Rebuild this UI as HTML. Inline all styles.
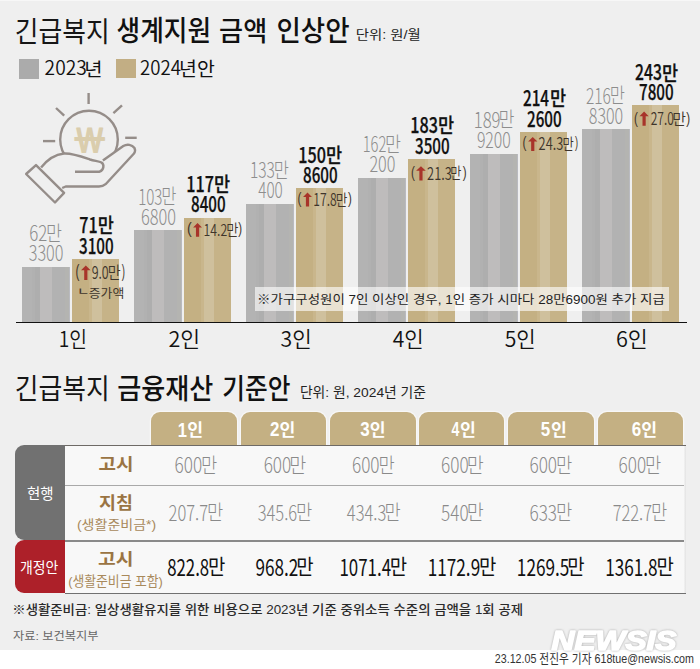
<!DOCTYPE html>
<html lang="ko"><head><meta charset="utf-8"><title>긴급복지 생계지원 금액 인상안</title>
<style>*{margin:0;padding:0;box-sizing:border-box}
html,body{width:700px;height:669px;overflow:hidden;background:#efefef}
body{position:relative}
.a{position:absolute}
text{white-space:pre}
.gbar{position:absolute;width:48px;background:linear-gradient(90deg,#b3b3b3 0,#b3b3b3 10px,#b1b1b1 10px,#b1b1b1 13px,#aeaeae 13px,#aeaeae 17.7px,#bebcbc 17.7px,#bebcbc 29.8px,#b2b2b2 29.8px,#b2b2b2 43.5px,#b4b4b1 43.5px,#b4b4b1 47.3px,#b9bac0 47.3px)}
.dbar{position:absolute;width:47.5px;background:linear-gradient(90deg,#c4b083 0,#c4b083 17.2px,#c9b68c 17.2px,#c9b68c 20px,#cfc09d 20px,#cfc09d 29.8px,#c6b388 29.8px)}
.tab{position:absolute;top:412px;height:33px;width:85.6px;background:#c4b083;border-radius:9px 9px 0 0;box-shadow:0 0 0 1.2px #f7f7f7}
</style></head>
<body>
<div class="gbar" style="left:22px;top:267px;height:55px"></div>
<div class="dbar" style="left:71.6px;top:258.9px;height:63.10000000000002px"></div>
<div class="gbar" style="left:134px;top:230.2px;height:91.80000000000001px"></div>
<div class="dbar" style="left:183.6px;top:217.6px;height:104.4px"></div>
<div class="gbar" style="left:246px;top:203.9px;height:118.1px"></div>
<div class="dbar" style="left:295.6px;top:188.2px;height:133.8px"></div>
<div class="gbar" style="left:358px;top:178.4px;height:143.6px"></div>
<div class="dbar" style="left:407.6px;top:158.7px;height:163.3px"></div>
<div class="gbar" style="left:470px;top:153.6px;height:168.4px"></div>
<div class="dbar" style="left:519.6px;top:131.7px;height:190.3px"></div>
<div class="gbar" style="left:582px;top:128.9px;height:193.1px"></div>
<div class="dbar" style="left:631.6px;top:105.4px;height:216.6px"></div>
<div class="a" style="left:255px;top:287px;width:414px;height:24px;background:rgba(255,255,255,0.62)"></div>
<div class="a" style="left:16px;top:322px;width:671px;height:1.3px;background:#111"></div>
<div class="a" style="left:19.3px;top:59.3px;width:19.3px;height:19.3px;background:#ababab"></div>
<div class="a" style="left:115.6px;top:59.3px;width:20px;height:19px;background:#c2ae84"></div>
<div class="tab" style="left:151px"></div>
<div class="tab" style="left:240.6px"></div>
<div class="tab" style="left:330px"></div>
<div class="tab" style="left:418.6px"></div>
<div class="tab" style="left:508px"></div>
<div class="tab" style="left:597.7px"></div>
<div class="a" style="left:65px;top:444.6px;width:620.5px;height:149.4px;background:#f8f8f8;border-top:1.3px solid #6e6a66;border-bottom:1.5px solid #707070"></div>
<div class="a" style="left:65px;top:484.6px;width:620.5px;height:1px;background:#a9a9a9"></div>
<div class="a" style="left:65px;top:540px;width:620.5px;height:1.6px;background:#8a8a8a"></div>
<div class="a" style="left:683.5px;top:446px;width:2px;height:146.5px;background:linear-gradient(90deg,#f3f3f3,#e2e2e2)"></div>
<div class="a" style="left:14.5px;top:445px;width:50.5px;height:94.8px;background:#717171;border-radius:9px 0 0 9px"></div>
<div class="a" style="left:14.5px;top:540px;width:50.5px;height:53.4px;background:#ad2029;border-radius:9px 0 0 9px"></div>
<div class="a" style="left:0;top:0;width:700px;height:1px;background:#f7f7f7"></div>
<div class="a" style="left:0;top:649.5px;width:700px;height:20px;background:#fff"></div>
<svg class="a" style="left:0;top:0" width="150" height="210" viewBox="0 0 150 210" fill="none" stroke="#958d89" stroke-width="2.4" stroke-linejoin="round">
<line x1="88.6" y1="93" x2="88.6" y2="104"/>
<line x1="56" y1="108" x2="64.2" y2="115.7"/>
<line x1="113.4" y1="113.1" x2="122" y2="105.4"/>
<line x1="43" y1="141.1" x2="55.2" y2="141.1"/>
<line x1="125.2" y1="137.8" x2="136.7" y2="137.8"/>
<circle cx="89" cy="139.5" r="28.8"/>
<path fill="#efefef" d="M41.1 167.5 C47 160 55 154.5 64 153.5 C72 153 80 156 90 159.5 C95 161 99 161 101.5 162.5 C104.5 164.5 104 170 99.6 171.7 L75 171.7 M102.9 160.5 L123.3 146.1 C127 143.8 132 144.5 134.5 148 C135.5 150 135 152 134 153.5 L105.6 184.2 C103.5 186 101.5 186.5 99 186.5 L65.7 186.5 L62.2 188"/>
<path fill="#efefef" d="M26.1 174 L36 165.1 L64.1 192.9 L55 202.5 Z"/>
</svg>
<svg class="a" style="left:0;top:0" width="700" height="669" viewBox="0 0 700 669">
<polygon fill="#a8342a" points="85.80,265.60 90.60,270.20 87.40,270.20 87.40,279.90 84.20,279.90 84.20,270.20 81.00,270.20"/>
<polygon fill="#a8342a" points="197.55,223.00 202.00,227.60 199.15,227.60 199.15,236.80 195.95,236.80 195.95,227.60 193.10,227.60"/>
<polygon fill="#a8342a" points="307.50,192.40 312.00,197.00 309.10,197.00 309.10,206.60 305.90,206.60 305.90,197.00 303.00,197.00"/>
<polygon fill="#a8342a" points="420.95,166.20 425.80,170.80 422.55,170.80 422.55,180.40 419.35,180.40 419.35,170.80 416.10,170.80"/>
<polygon fill="#a8342a" points="532.75,136.90 537.40,141.50 534.35,141.50 534.35,151.10 531.15,151.10 531.15,141.50 528.10,141.50"/>
<polygon fill="#a8342a" points="644.10,111.60 648.70,116.20 645.70,116.20 645.70,125.80 642.50,125.80 642.50,116.20 639.50,116.20"/>
<text id="newsis" x="551.5" y="649.6" font-size="27" font-weight="700" font-style="italic" fill="#fff" stroke="#fff" stroke-width="1.6" stroke-linejoin="round" textLength="125" lengthAdjust="spacingAndGlyphs" style="font-family:'Liberation Sans',sans-serif;filter:drop-shadow(0 0 1.2px rgba(110,110,110,0.55))">NEWSIS</text>
<text id="t1a" x="14.84" y="42.06" font-size="28.24" font-weight="400" fill="#161616" style="font-family:'Liberation Sans','Noto Sans CJK KR',sans-serif" textLength="94.92" lengthAdjust="spacingAndGlyphs">긴급복지</text>
<text id="t1b" x="116.60" y="41.40" font-size="28.69" font-weight="500" fill="#111" style="font-family:'Liberation Sans','Noto Sans CJK KR',sans-serif" textLength="94.54" lengthAdjust="spacingAndGlyphs">생계지원</text>
<text id="t1c" x="219.10" y="40.62" font-size="27.40" font-weight="500" fill="#111" style="font-family:'Liberation Sans','Noto Sans CJK KR',sans-serif" textLength="48.10" lengthAdjust="spacingAndGlyphs">금액</text>
<text id="t1d" x="276.42" y="41.00" font-size="28.54" font-weight="500" fill="#111" style="font-family:'Liberation Sans','Noto Sans CJK KR',sans-serif" textLength="73.12" lengthAdjust="spacingAndGlyphs">인상안</text>
<text id="t1u" x="355.85" y="39.33" font-size="12.59" font-weight="400" fill="#222" style="font-family:'Liberation Sans','Noto Sans CJK KR',sans-serif" textLength="64.86" lengthAdjust="spacingAndGlyphs">단위: 원/월</text>
<text id="won" x="73.34" y="152.60" font-size="34.56" font-weight="800" fill="#dacdad" style="font-family:'NanumGothic',sans-serif" textLength="33.10" lengthAdjust="spacingAndGlyphs">₩</text>
<text id="lg1d" x="44.61" y="74.99" font-size="19.50" font-weight="350" fill="#111" style="font-family:'Noto Sans CJK KR',sans-serif" textLength="42.20" lengthAdjust="spacingAndGlyphs">2023</text>
<text id="lg1m" x="84.29" y="76.33" font-size="18.17" font-weight="400" fill="#111" style="font-family:'Liberation Sans','Noto Sans CJK KR',sans-serif" textLength="18.28" lengthAdjust="spacingAndGlyphs">년</text>
<text id="lg2d" x="139.95" y="74.99" font-size="19.50" font-weight="350" fill="#111" style="font-family:'Noto Sans CJK KR',sans-serif" textLength="40.96" lengthAdjust="spacingAndGlyphs">2024</text>
<text id="lg2m" x="179.05" y="75.93" font-size="18.90" font-weight="400" fill="#111" style="font-family:'Liberation Sans','Noto Sans CJK KR',sans-serif" textLength="35.72" lengthAdjust="spacingAndGlyphs">년안</text>
<text id="g2_0" x="28.71" y="261.32" font-size="21.63" font-weight="300" fill="#8d8d8d" style="font-family:'Noto Sans CJK KR',sans-serif" textLength="34.75" lengthAdjust="spacingAndGlyphs">3300</text>
<text id="g1d_0" x="29.33" y="240.58" font-size="21.63" font-weight="300" fill="#8d8d8d" style="font-family:'Noto Sans CJK KR',sans-serif" textLength="18.01" lengthAdjust="spacingAndGlyphs">62</text>
<text id="g1m_0" x="46.11" y="240.95" font-size="20.50" font-weight="300" fill="#8d8d8d" style="font-family:'Liberation Sans','Noto Sans CJK KR',sans-serif" textLength="15.98" lengthAdjust="spacingAndGlyphs">만</text>
<text id="g2_1" x="140.89" y="224.58" font-size="21.63" font-weight="300" fill="#8d8d8d" style="font-family:'Noto Sans CJK KR',sans-serif" textLength="35.01" lengthAdjust="spacingAndGlyphs">6800</text>
<text id="g1d_1" x="138.15" y="204.64" font-size="21.63" font-weight="300" fill="#8d8d8d" style="font-family:'Noto Sans CJK KR',sans-serif" textLength="24.31" lengthAdjust="spacingAndGlyphs">103</text>
<text id="g1m_1" x="161.23" y="204.21" font-size="20.50" font-weight="300" fill="#8d8d8d" style="font-family:'Liberation Sans','Noto Sans CJK KR',sans-serif" textLength="15.18" lengthAdjust="spacingAndGlyphs">만</text>
<text id="g2_2" x="258.19" y="198.26" font-size="21.63" font-weight="300" fill="#8d8d8d" style="font-family:'Noto Sans CJK KR',sans-serif" textLength="24.59" lengthAdjust="spacingAndGlyphs">400</text>
<text id="g1d_2" x="249.97" y="178.32" font-size="21.63" font-weight="300" fill="#8d8d8d" style="font-family:'Noto Sans CJK KR',sans-serif" textLength="24.99" lengthAdjust="spacingAndGlyphs">133</text>
<text id="g1m_2" x="273.73" y="177.89" font-size="20.50" font-weight="300" fill="#8d8d8d" style="font-family:'Liberation Sans','Noto Sans CJK KR',sans-serif" textLength="15.18" lengthAdjust="spacingAndGlyphs">만</text>
<text id="g2_3" x="369.39" y="172.26" font-size="21.63" font-weight="300" fill="#8d8d8d" style="font-family:'Noto Sans CJK KR',sans-serif" textLength="26.01" lengthAdjust="spacingAndGlyphs">200</text>
<text id="g1d_3" x="362.65" y="152.32" font-size="21.63" font-weight="300" fill="#8d8d8d" style="font-family:'Noto Sans CJK KR',sans-serif" textLength="23.63" lengthAdjust="spacingAndGlyphs">162</text>
<text id="g1m_3" x="385.05" y="151.89" font-size="20.50" font-weight="300" fill="#8d8d8d" style="font-family:'Liberation Sans','Noto Sans CJK KR',sans-serif" textLength="15.98" lengthAdjust="spacingAndGlyphs">만</text>
<text id="g2_4" x="476.89" y="147.64" font-size="21.63" font-weight="300" fill="#8d8d8d" style="font-family:'Noto Sans CJK KR',sans-serif" textLength="33.95" lengthAdjust="spacingAndGlyphs">9200</text>
<text id="g1d_4" x="473.71" y="127.70" font-size="21.63" font-weight="300" fill="#8d8d8d" style="font-family:'Noto Sans CJK KR',sans-serif" textLength="26.81" lengthAdjust="spacingAndGlyphs">189</text>
<text id="g1m_4" x="498.49" y="127.27" font-size="20.68" font-weight="300" fill="#8d8d8d" style="font-family:'Liberation Sans','Noto Sans CJK KR',sans-serif" textLength="15.98" lengthAdjust="spacingAndGlyphs">만</text>
<text id="g2_5" x="588.83" y="123.58" font-size="21.63" font-weight="300" fill="#8d8d8d" style="font-family:'Noto Sans CJK KR',sans-serif" textLength="34.39" lengthAdjust="spacingAndGlyphs">8300</text>
<text id="g1d_5" x="585.95" y="103.64" font-size="21.63" font-weight="300" fill="#8d8d8d" style="font-family:'Noto Sans CJK KR',sans-serif" textLength="24.95" lengthAdjust="spacingAndGlyphs">216</text>
<text id="g1m_5" x="609.67" y="103.21" font-size="20.50" font-weight="300" fill="#8d8d8d" style="font-family:'Liberation Sans','Noto Sans CJK KR',sans-serif" textLength="15.18" lengthAdjust="spacingAndGlyphs">만</text>
<text id="b2_0" x="79.04" y="253.82" font-size="21.35" font-weight="500" fill="#111" stroke="#111" stroke-width="0.25" style="font-family:'Noto Sans CJK KR',sans-serif" textLength="34.60" lengthAdjust="spacingAndGlyphs">3100</text>
<text id="b1d_0" x="79.23" y="233.20" font-size="21.35" font-weight="500" fill="#111" stroke="#111" stroke-width="0.25" style="font-family:'Noto Sans CJK KR',sans-serif" textLength="18.40" lengthAdjust="spacingAndGlyphs">71</text>
<text id="b1m_0" x="97.66" y="233.23" font-size="20.02" font-weight="500" fill="#111" stroke="#111" stroke-width="0.25" style="font-family:'Liberation Sans','Noto Sans CJK KR',sans-serif" textLength="16.12" lengthAdjust="spacingAndGlyphs">만</text>
<text id="b2_1" x="191.04" y="212.20" font-size="21.35" font-weight="500" fill="#111" stroke="#111" stroke-width="0.25" style="font-family:'Noto Sans CJK KR',sans-serif" textLength="34.60" lengthAdjust="spacingAndGlyphs">8400</text>
<text id="b1d_1" x="186.18" y="192.38" font-size="21.35" font-weight="500" fill="#111" stroke="#111" stroke-width="0.25" style="font-family:'Noto Sans CJK KR',sans-serif" textLength="27.70" lengthAdjust="spacingAndGlyphs">117</text>
<text id="b1m_1" x="213.91" y="192.41" font-size="20.02" font-weight="500" fill="#111" stroke="#111" stroke-width="0.25" style="font-family:'Liberation Sans','Noto Sans CJK KR',sans-serif" textLength="16.12" lengthAdjust="spacingAndGlyphs">만</text>
<text id="b2_2" x="303.04" y="183.44" font-size="21.35" font-weight="500" fill="#111" stroke="#111" stroke-width="0.25" style="font-family:'Noto Sans CJK KR',sans-serif" textLength="34.60" lengthAdjust="spacingAndGlyphs">8600</text>
<text id="b1d_2" x="298.18" y="162.82" font-size="21.35" font-weight="500" fill="#111" stroke="#111" stroke-width="0.25" style="font-family:'Noto Sans CJK KR',sans-serif" textLength="27.70" lengthAdjust="spacingAndGlyphs">150</text>
<text id="b1m_2" x="325.91" y="162.85" font-size="20.02" font-weight="500" fill="#111" stroke="#111" stroke-width="0.25" style="font-family:'Liberation Sans','Noto Sans CJK KR',sans-serif" textLength="16.12" lengthAdjust="spacingAndGlyphs">만</text>
<text id="b2_3" x="415.04" y="153.94" font-size="21.35" font-weight="500" fill="#111" stroke="#111" stroke-width="0.25" style="font-family:'Noto Sans CJK KR',sans-serif" textLength="34.60" lengthAdjust="spacingAndGlyphs">3500</text>
<text id="b1d_3" x="410.18" y="133.32" font-size="21.35" font-weight="500" fill="#111" stroke="#111" stroke-width="0.25" style="font-family:'Noto Sans CJK KR',sans-serif" textLength="27.70" lengthAdjust="spacingAndGlyphs">183</text>
<text id="b1m_3" x="437.91" y="133.35" font-size="20.02" font-weight="500" fill="#111" stroke="#111" stroke-width="0.25" style="font-family:'Liberation Sans','Noto Sans CJK KR',sans-serif" textLength="16.12" lengthAdjust="spacingAndGlyphs">만</text>
<text id="b2_4" x="527.04" y="126.94" font-size="21.35" font-weight="500" fill="#111" stroke="#111" stroke-width="0.25" style="font-family:'Noto Sans CJK KR',sans-serif" textLength="34.60" lengthAdjust="spacingAndGlyphs">2600</text>
<text id="b1d_4" x="522.98" y="106.32" font-size="21.35" font-weight="500" fill="#111" stroke="#111" stroke-width="0.25" style="font-family:'Noto Sans CJK KR',sans-serif" textLength="26.10" lengthAdjust="spacingAndGlyphs">214</text>
<text id="b1m_4" x="549.91" y="106.35" font-size="20.02" font-weight="500" fill="#111" stroke="#111" stroke-width="0.25" style="font-family:'Liberation Sans','Noto Sans CJK KR',sans-serif" textLength="16.12" lengthAdjust="spacingAndGlyphs">만</text>
<text id="b2_5" x="639.04" y="100.32" font-size="21.35" font-weight="500" fill="#111" stroke="#111" stroke-width="0.25" style="font-family:'Noto Sans CJK KR',sans-serif" textLength="34.60" lengthAdjust="spacingAndGlyphs">7800</text>
<text id="b1d_5" x="634.98" y="79.70" font-size="21.35" font-weight="500" fill="#111" stroke="#111" stroke-width="0.25" style="font-family:'Noto Sans CJK KR',sans-serif" textLength="26.90" lengthAdjust="spacingAndGlyphs">243</text>
<text id="b1m_5" x="661.91" y="80.53" font-size="20.02" font-weight="500" fill="#111" stroke="#111" stroke-width="0.25" style="font-family:'Liberation Sans','Noto Sans CJK KR',sans-serif" textLength="16.12" lengthAdjust="spacingAndGlyphs">만</text>
<text id="ip_0" x="75.60" y="277.12" font-size="17.70" font-weight="400" fill="#3e352b" style="font-family:'Liberation Sans','Noto Sans CJK KR',sans-serif" textLength="3.88" lengthAdjust="spacingAndGlyphs">(</text>
<text id="in_0" x="91.66" y="279.08" font-size="17.88" font-weight="350" fill="#3e352b" style="font-family:'Noto Sans CJK KR',sans-serif" textLength="17.00" lengthAdjust="spacingAndGlyphs">9.0</text>
<text id="im_0" x="107.82" y="278.84" font-size="17.34" font-weight="350" fill="#3e352b" style="font-family:'Liberation Sans','Noto Sans CJK KR',sans-serif" textLength="12.94" lengthAdjust="spacingAndGlyphs">만</text>
<text id="iq_0" x="121.84" y="277.12" font-size="17.70" font-weight="400" fill="#3e352b" style="font-family:'Liberation Sans','Noto Sans CJK KR',sans-serif" textLength="3.20" lengthAdjust="spacingAndGlyphs">)</text>
<text id="ip_1" x="186.92" y="234.18" font-size="16.48" font-weight="400" fill="#3e352b" style="font-family:'Liberation Sans','Noto Sans CJK KR',sans-serif" textLength="4.68" lengthAdjust="spacingAndGlyphs">(</text>
<text id="in_1" x="203.54" y="236.14" font-size="16.05" font-weight="350" fill="#3e352b" style="font-family:'Noto Sans CJK KR',sans-serif" textLength="23.62" lengthAdjust="spacingAndGlyphs">14.2</text>
<text id="im_1" x="226.32" y="235.90" font-size="15.89" font-weight="350" fill="#3e352b" style="font-family:'Liberation Sans','Noto Sans CJK KR',sans-serif" textLength="12.18" lengthAdjust="spacingAndGlyphs">만</text>
<text id="iq_1" x="238.16" y="234.18" font-size="16.48" font-weight="400" fill="#3e352b" style="font-family:'Liberation Sans','Noto Sans CJK KR',sans-serif" textLength="3.82" lengthAdjust="spacingAndGlyphs">)</text>
<text id="ip_2" x="297.54" y="203.82" font-size="17.00" font-weight="400" fill="#3e352b" style="font-family:'Liberation Sans','Noto Sans CJK KR',sans-serif" textLength="3.88" lengthAdjust="spacingAndGlyphs">(</text>
<text id="in_2" x="313.30" y="205.78" font-size="16.99" font-weight="350" fill="#3e352b" style="font-family:'Noto Sans CJK KR',sans-serif" textLength="23.36" lengthAdjust="spacingAndGlyphs">17.8</text>
<text id="im_2" x="335.82" y="205.94" font-size="16.42" font-weight="350" fill="#3e352b" style="font-family:'Liberation Sans','Noto Sans CJK KR',sans-serif" textLength="11.62" lengthAdjust="spacingAndGlyphs">만</text>
<text id="iq_2" x="347.90" y="203.82" font-size="17.00" font-weight="400" fill="#3e352b" style="font-family:'Liberation Sans','Noto Sans CJK KR',sans-serif" textLength="3.82" lengthAdjust="spacingAndGlyphs">)</text>
<text id="ip_3" x="410.98" y="177.94" font-size="17.00" font-weight="400" fill="#3e352b" style="font-family:'Liberation Sans','Noto Sans CJK KR',sans-serif" textLength="3.88" lengthAdjust="spacingAndGlyphs">(</text>
<text id="in_3" x="427.10" y="179.90" font-size="16.99" font-weight="350" fill="#3e352b" style="font-family:'Noto Sans CJK KR',sans-serif" textLength="24.68" lengthAdjust="spacingAndGlyphs">21.3</text>
<text id="im_3" x="450.14" y="179.26" font-size="16.42" font-weight="350" fill="#3e352b" style="font-family:'Liberation Sans','Noto Sans CJK KR',sans-serif" textLength="11.12" lengthAdjust="spacingAndGlyphs">만</text>
<text id="iq_3" x="462.72" y="177.94" font-size="17.00" font-weight="400" fill="#3e352b" style="font-family:'Liberation Sans','Noto Sans CJK KR',sans-serif" textLength="3.88" lengthAdjust="spacingAndGlyphs">)</text>
<text id="ip_4" x="522.48" y="148.32" font-size="17.00" font-weight="400" fill="#3e352b" style="font-family:'Liberation Sans','Noto Sans CJK KR',sans-serif" textLength="3.88" lengthAdjust="spacingAndGlyphs">(</text>
<text id="in_4" x="538.60" y="150.28" font-size="16.99" font-weight="350" fill="#3e352b" style="font-family:'Noto Sans CJK KR',sans-serif" textLength="24.68" lengthAdjust="spacingAndGlyphs">24.3</text>
<text id="im_4" x="562.44" y="150.44" font-size="16.42" font-weight="350" fill="#3e352b" style="font-family:'Liberation Sans','Noto Sans CJK KR',sans-serif" textLength="11.32" lengthAdjust="spacingAndGlyphs">만</text>
<text id="iq_4" x="575.02" y="148.32" font-size="17.00" font-weight="400" fill="#3e352b" style="font-family:'Liberation Sans','Noto Sans CJK KR',sans-serif" textLength="3.08" lengthAdjust="spacingAndGlyphs">)</text>
<text id="ip_5" x="634.04" y="123.50" font-size="17.00" font-weight="400" fill="#3e352b" style="font-family:'Liberation Sans','Noto Sans CJK KR',sans-serif" textLength="3.88" lengthAdjust="spacingAndGlyphs">(</text>
<text id="in_5" x="650.66" y="125.46" font-size="16.99" font-weight="350" fill="#3e352b" style="font-family:'Noto Sans CJK KR',sans-serif" textLength="23.12" lengthAdjust="spacingAndGlyphs">27.0</text>
<text id="im_5" x="672.14" y="124.82" font-size="16.42" font-weight="350" fill="#3e352b" style="font-family:'Liberation Sans','Noto Sans CJK KR',sans-serif" textLength="13.74" lengthAdjust="spacingAndGlyphs">만</text>
<text id="iq_5" x="686.28" y="123.50" font-size="17.00" font-weight="400" fill="#3e352b" style="font-family:'Liberation Sans','Noto Sans CJK KR',sans-serif" textLength="3.88" lengthAdjust="spacingAndGlyphs">)</text>
<text id="jk0" x="77.38" y="294.64" font-size="10.00" font-weight="500" fill="#3e352b" style="font-family:'Liberation Sans','Noto Sans CJK KR',sans-serif" textLength="12.24" lengthAdjust="spacingAndGlyphs">ㄴ</text>
<text id="jk" x="88.73" y="298.29" font-size="12.16" font-weight="400" fill="#3e352b" style="font-family:'Liberation Sans','Noto Sans CJK KR',sans-serif" textLength="35.54" lengthAdjust="spacingAndGlyphs">증가액</text>
<text id="note" x="257.06" y="304.12" font-size="12.30" font-weight="400" fill="#1e1e1e" style="font-family:'Liberation Sans','Noto Sans CJK KR',sans-serif" textLength="407.78" lengthAdjust="spacingAndGlyphs">※가구구성원이 7인 이상인 경우, 1인 증가 시마다 28만6900원 추가 지급</text>
<text id="xl_0" x="58.76" y="347.38" font-size="22.00" font-weight="350" fill="#111" style="font-family:'Noto Sans CJK KR',sans-serif" textLength="28.28" lengthAdjust="spacingAndGlyphs">1인</text>
<text id="xl_1" x="168.38" y="347.38" font-size="22.00" font-weight="350" fill="#111" style="font-family:'Noto Sans CJK KR',sans-serif" textLength="31.72" lengthAdjust="spacingAndGlyphs">2인</text>
<text id="xl_2" x="280.50" y="347.38" font-size="22.00" font-weight="350" fill="#111" style="font-family:'Noto Sans CJK KR',sans-serif" textLength="31.16" lengthAdjust="spacingAndGlyphs">3인</text>
<text id="xl_3" x="392.75" y="347.38" font-size="22.00" font-weight="350" fill="#111" style="font-family:'Noto Sans CJK KR',sans-serif" textLength="31.04" lengthAdjust="spacingAndGlyphs">4인</text>
<text id="xl_4" x="504.75" y="347.38" font-size="22.00" font-weight="350" fill="#111" style="font-family:'Noto Sans CJK KR',sans-serif" textLength="31.04" lengthAdjust="spacingAndGlyphs">5인</text>
<text id="xl_5" x="615.95" y="347.38" font-size="22.00" font-weight="350" fill="#111" style="font-family:'Noto Sans CJK KR',sans-serif" textLength="31.84" lengthAdjust="spacingAndGlyphs">6인</text>
<text id="t2a" x="14.84" y="399.38" font-size="28.07" font-weight="400" fill="#161616" style="font-family:'Liberation Sans','Noto Sans CJK KR',sans-serif" textLength="94.92" lengthAdjust="spacingAndGlyphs">긴급복지</text>
<text id="t2b" x="117.26" y="398.56" font-size="28.36" font-weight="500" fill="#111" style="font-family:'Liberation Sans','Noto Sans CJK KR',sans-serif" textLength="96.08" lengthAdjust="spacingAndGlyphs">금융재산</text>
<text id="t2c" x="222.26" y="398.56" font-size="28.36" font-weight="500" fill="#111" style="font-family:'Liberation Sans','Noto Sans CJK KR',sans-serif" textLength="68.08" lengthAdjust="spacingAndGlyphs">기준안</text>
<text id="t2u" x="299.91" y="396.53" font-size="13.47" font-weight="400" fill="#222" style="font-family:'Liberation Sans','Noto Sans CJK KR',sans-serif" textLength="126.12" lengthAdjust="spacingAndGlyphs">단위: 원, 2024년 기준</text>
<text id="tbd_0" x="177.72" y="436.58" font-size="20.00" font-weight="700" fill="#fff" style="font-family:'Liberation Sans','Noto Sans CJK KR',sans-serif" textLength="9.20" lengthAdjust="spacingAndGlyphs">1</text>
<text id="tbm_0" x="187.34" y="435.54" font-size="17.04" font-weight="700" fill="#fff" style="font-family:'Liberation Sans','Noto Sans CJK KR',sans-serif" textLength="15.84" lengthAdjust="spacingAndGlyphs">인</text>
<text id="tbd_1" x="270.11" y="436.14" font-size="20.00" font-weight="700" fill="#fff" style="font-family:'Liberation Sans','Noto Sans CJK KR',sans-serif" textLength="9.44" lengthAdjust="spacingAndGlyphs">2</text>
<text id="tbm_1" x="279.61" y="435.54" font-size="17.04" font-weight="700" fill="#fff" style="font-family:'Liberation Sans','Noto Sans CJK KR',sans-serif" textLength="15.84" lengthAdjust="spacingAndGlyphs">인</text>
<text id="tbd_2" x="360.35" y="436.14" font-size="20.00" font-weight="700" fill="#fff" style="font-family:'Liberation Sans','Noto Sans CJK KR',sans-serif" textLength="9.44" lengthAdjust="spacingAndGlyphs">3</text>
<text id="tbm_2" x="369.85" y="435.54" font-size="17.04" font-weight="700" fill="#fff" style="font-family:'Liberation Sans','Noto Sans CJK KR',sans-serif" textLength="15.84" lengthAdjust="spacingAndGlyphs">인</text>
<text id="tbd_3" x="451.39" y="436.14" font-size="20.00" font-weight="700" fill="#fff" style="font-family:'Liberation Sans','Noto Sans CJK KR',sans-serif" textLength="7.84" lengthAdjust="spacingAndGlyphs">4</text>
<text id="tbm_3" x="460.09" y="435.54" font-size="17.04" font-weight="700" fill="#fff" style="font-family:'Liberation Sans','Noto Sans CJK KR',sans-serif" textLength="15.84" lengthAdjust="spacingAndGlyphs">인</text>
<text id="tbd_4" x="540.83" y="436.14" font-size="20.00" font-weight="700" fill="#fff" style="font-family:'Liberation Sans','Noto Sans CJK KR',sans-serif" textLength="9.44" lengthAdjust="spacingAndGlyphs">5</text>
<text id="tbm_4" x="551.13" y="435.54" font-size="17.04" font-weight="700" fill="#fff" style="font-family:'Liberation Sans','Noto Sans CJK KR',sans-serif" textLength="15.84" lengthAdjust="spacingAndGlyphs">인</text>
<text id="tbd_5" x="631.87" y="436.14" font-size="20.00" font-weight="700" fill="#fff" style="font-family:'Liberation Sans','Noto Sans CJK KR',sans-serif" textLength="9.44" lengthAdjust="spacingAndGlyphs">6</text>
<text id="tbm_5" x="641.37" y="435.54" font-size="17.04" font-weight="700" fill="#fff" style="font-family:'Liberation Sans','Noto Sans CJK KR',sans-serif" textLength="15.84" lengthAdjust="spacingAndGlyphs">인</text>
<text id="hy" x="27.05" y="499.15" font-size="14.95" font-weight="400" fill="#fff" style="font-family:'Liberation Sans','Noto Sans CJK KR',sans-serif" textLength="26.58" lengthAdjust="spacingAndGlyphs">현행</text>
<text id="gj" x="19.93" y="572.51" font-size="14.42" font-weight="400" fill="#fff" style="font-family:'Liberation Sans','Noto Sans CJK KR',sans-serif" textLength="38.40" lengthAdjust="spacingAndGlyphs">개정안</text>
<text id="r1" x="98.50" y="470.44" font-size="17.36" font-weight="700" fill="#9a7443" style="font-family:'Liberation Sans','Noto Sans CJK KR',sans-serif" textLength="34.98" lengthAdjust="spacingAndGlyphs">고시</text>
<text id="r2" x="99.06" y="508.78" font-size="16.64" font-weight="700" fill="#9a7443" style="font-family:'Liberation Sans','Noto Sans CJK KR',sans-serif" textLength="33.92" lengthAdjust="spacingAndGlyphs">지침</text>
<text id="r2s" x="76.96" y="528.64" font-size="12.53" font-weight="400" fill="#a8895b" style="font-family:'Liberation Sans','Noto Sans CJK KR',sans-serif" textLength="79.20" lengthAdjust="spacingAndGlyphs">(생활준비금*)</text>
<text id="r3" x="98.06" y="565.16" font-size="17.01" font-weight="700" fill="#9a7443" style="font-family:'Liberation Sans','Noto Sans CJK KR',sans-serif" textLength="35.48" lengthAdjust="spacingAndGlyphs">고시</text>
<text id="r3s" x="68.14" y="585.74" font-size="13.11" font-weight="400" fill="#a8895b" style="font-family:'Liberation Sans','Noto Sans CJK KR',sans-serif" textLength="94.78" lengthAdjust="spacingAndGlyphs">(생활준비금 포함)</text>
<text id="v1d_0" x="174.52" y="472.66" font-size="21.65" font-weight="300" fill="#8a8a8a" style="font-family:'Noto Sans CJK KR',sans-serif" textLength="27.57" lengthAdjust="spacingAndGlyphs">600</text>
<text id="v1m_0" x="200.98" y="472.95" font-size="20.50" font-weight="300" fill="#8a8a8a" style="font-family:'Liberation Sans','Noto Sans CJK KR',sans-serif" textLength="16.24" lengthAdjust="spacingAndGlyphs">만</text>
<text id="v2d_0" x="168.58" y="520.78" font-size="21.65" font-weight="300" fill="#8a8a8a" style="font-family:'Noto Sans CJK KR',sans-serif" textLength="39.45" lengthAdjust="spacingAndGlyphs">207.7</text>
<text id="v2m_0" x="206.92" y="520.27" font-size="20.50" font-weight="300" fill="#8a8a8a" style="font-family:'Liberation Sans','Noto Sans CJK KR',sans-serif" textLength="16.24" lengthAdjust="spacingAndGlyphs">만</text>
<text id="v3d_0" x="167.17" y="575.84" font-size="23.04" font-weight="400" fill="#111" style="font-family:'Noto Sans CJK KR',sans-serif" textLength="41.98" lengthAdjust="spacingAndGlyphs">822.8</text>
<text id="v3m_0" x="207.96" y="574.07" font-size="20.86" font-weight="400" fill="#111" style="font-family:'Liberation Sans','Noto Sans CJK KR',sans-serif" textLength="17.34" lengthAdjust="spacingAndGlyphs">만</text>
<text id="v1d_1" x="263.65" y="472.66" font-size="21.65" font-weight="300" fill="#8a8a8a" style="font-family:'Noto Sans CJK KR',sans-serif" textLength="27.57" lengthAdjust="spacingAndGlyphs">600</text>
<text id="v1m_1" x="289.31" y="472.95" font-size="20.50" font-weight="300" fill="#8a8a8a" style="font-family:'Liberation Sans','Noto Sans CJK KR',sans-serif" textLength="17.04" lengthAdjust="spacingAndGlyphs">만</text>
<text id="v2d_1" x="257.71" y="520.78" font-size="21.65" font-weight="300" fill="#8a8a8a" style="font-family:'Noto Sans CJK KR',sans-serif" textLength="39.45" lengthAdjust="spacingAndGlyphs">345.6</text>
<text id="v2m_1" x="296.05" y="520.27" font-size="20.50" font-weight="300" fill="#8a8a8a" style="font-family:'Liberation Sans','Noto Sans CJK KR',sans-serif" textLength="16.24" lengthAdjust="spacingAndGlyphs">만</text>
<text id="v3d_1" x="255.50" y="575.84" font-size="23.04" font-weight="400" fill="#111" style="font-family:'Noto Sans CJK KR',sans-serif" textLength="42.78" lengthAdjust="spacingAndGlyphs">968.2</text>
<text id="v3m_1" x="296.29" y="574.07" font-size="20.86" font-weight="400" fill="#111" style="font-family:'Liberation Sans','Noto Sans CJK KR',sans-serif" textLength="17.34" lengthAdjust="spacingAndGlyphs">만</text>
<text id="v1d_2" x="351.98" y="472.66" font-size="21.65" font-weight="300" fill="#8a8a8a" style="font-family:'Noto Sans CJK KR',sans-serif" textLength="27.57" lengthAdjust="spacingAndGlyphs">600</text>
<text id="v1m_2" x="378.44" y="472.95" font-size="20.50" font-weight="300" fill="#8a8a8a" style="font-family:'Liberation Sans','Noto Sans CJK KR',sans-serif" textLength="16.24" lengthAdjust="spacingAndGlyphs">만</text>
<text id="v2d_2" x="346.84" y="520.78" font-size="21.65" font-weight="300" fill="#8a8a8a" style="font-family:'Noto Sans CJK KR',sans-serif" textLength="39.45" lengthAdjust="spacingAndGlyphs">434.3</text>
<text id="v2m_2" x="384.38" y="520.27" font-size="20.50" font-weight="300" fill="#8a8a8a" style="font-family:'Liberation Sans','Noto Sans CJK KR',sans-serif" textLength="16.24" lengthAdjust="spacingAndGlyphs">만</text>
<text id="v3d_2" x="339.39" y="575.84" font-size="23.04" font-weight="400" fill="#111" style="font-family:'Noto Sans CJK KR',sans-serif" textLength="51.66" lengthAdjust="spacingAndGlyphs">1071.4</text>
<text id="v3m_2" x="389.86" y="574.07" font-size="20.86" font-weight="400" fill="#111" style="font-family:'Liberation Sans','Noto Sans CJK KR',sans-serif" textLength="17.34" lengthAdjust="spacingAndGlyphs">만</text>
<text id="v1d_3" x="441.12" y="472.66" font-size="21.65" font-weight="300" fill="#8a8a8a" style="font-family:'Noto Sans CJK KR',sans-serif" textLength="27.57" lengthAdjust="spacingAndGlyphs">600</text>
<text id="v1m_3" x="466.78" y="472.95" font-size="20.50" font-weight="300" fill="#8a8a8a" style="font-family:'Liberation Sans','Noto Sans CJK KR',sans-serif" textLength="17.04" lengthAdjust="spacingAndGlyphs">만</text>
<text id="v2d_3" x="441.12" y="520.78" font-size="21.65" font-weight="300" fill="#8a8a8a" style="font-family:'Noto Sans CJK KR',sans-serif" textLength="27.57" lengthAdjust="spacingAndGlyphs">540</text>
<text id="v2m_3" x="466.78" y="520.27" font-size="20.50" font-weight="300" fill="#8a8a8a" style="font-family:'Liberation Sans','Noto Sans CJK KR',sans-serif" textLength="17.04" lengthAdjust="spacingAndGlyphs">만</text>
<text id="v3d_3" x="427.73" y="575.84" font-size="23.04" font-weight="400" fill="#111" style="font-family:'Noto Sans CJK KR',sans-serif" textLength="52.46" lengthAdjust="spacingAndGlyphs">1172.9</text>
<text id="v3m_3" x="479.00" y="574.07" font-size="20.86" font-weight="400" fill="#111" style="font-family:'Liberation Sans','Noto Sans CJK KR',sans-serif" textLength="17.34" lengthAdjust="spacingAndGlyphs">만</text>
<text id="v1d_4" x="529.45" y="472.66" font-size="21.65" font-weight="300" fill="#8a8a8a" style="font-family:'Noto Sans CJK KR',sans-serif" textLength="27.57" lengthAdjust="spacingAndGlyphs">600</text>
<text id="v1m_4" x="555.91" y="472.95" font-size="20.50" font-weight="300" fill="#8a8a8a" style="font-family:'Liberation Sans','Noto Sans CJK KR',sans-serif" textLength="16.24" lengthAdjust="spacingAndGlyphs">만</text>
<text id="v2d_4" x="529.45" y="520.78" font-size="21.65" font-weight="300" fill="#8a8a8a" style="font-family:'Noto Sans CJK KR',sans-serif" textLength="27.57" lengthAdjust="spacingAndGlyphs">633</text>
<text id="v2m_4" x="555.91" y="520.27" font-size="20.50" font-weight="300" fill="#8a8a8a" style="font-family:'Liberation Sans','Noto Sans CJK KR',sans-serif" textLength="16.24" lengthAdjust="spacingAndGlyphs">만</text>
<text id="v3d_4" x="516.86" y="575.84" font-size="23.04" font-weight="400" fill="#111" style="font-family:'Noto Sans CJK KR',sans-serif" textLength="52.46" lengthAdjust="spacingAndGlyphs">1269.5</text>
<text id="v3m_4" x="567.33" y="574.07" font-size="20.86" font-weight="400" fill="#111" style="font-family:'Liberation Sans','Noto Sans CJK KR',sans-serif" textLength="17.34" lengthAdjust="spacingAndGlyphs">만</text>
<text id="v1d_5" x="618.58" y="472.66" font-size="21.65" font-weight="300" fill="#8a8a8a" style="font-family:'Noto Sans CJK KR',sans-serif" textLength="27.57" lengthAdjust="spacingAndGlyphs">600</text>
<text id="v1m_5" x="645.04" y="472.95" font-size="20.50" font-weight="300" fill="#8a8a8a" style="font-family:'Liberation Sans','Noto Sans CJK KR',sans-serif" textLength="16.24" lengthAdjust="spacingAndGlyphs">만</text>
<text id="v2d_5" x="612.64" y="520.78" font-size="21.65" font-weight="300" fill="#8a8a8a" style="font-family:'Noto Sans CJK KR',sans-serif" textLength="39.45" lengthAdjust="spacingAndGlyphs">722.7</text>
<text id="v2m_5" x="650.98" y="520.27" font-size="20.50" font-weight="300" fill="#8a8a8a" style="font-family:'Liberation Sans','Noto Sans CJK KR',sans-serif" textLength="16.24" lengthAdjust="spacingAndGlyphs">만</text>
<text id="v3d_5" x="605.19" y="575.84" font-size="23.04" font-weight="400" fill="#111" style="font-family:'Noto Sans CJK KR',sans-serif" textLength="52.46" lengthAdjust="spacingAndGlyphs">1361.8</text>
<text id="v3m_5" x="656.46" y="574.07" font-size="20.86" font-weight="400" fill="#111" style="font-family:'Liberation Sans','Noto Sans CJK KR',sans-serif" textLength="17.34" lengthAdjust="spacingAndGlyphs">만</text>
<text id="fn" x="12.24" y="613.64" font-size="12.75" font-weight="500" fill="#2a2a2a" style="font-family:'Liberation Sans','Noto Sans CJK KR',sans-serif" textLength="510.84" lengthAdjust="spacingAndGlyphs">※생활준비금: 일상생활유지를 위한 비용으로 2023년 기준 중위소득 수준의 금액을 1회 공제</text>
<text id="src" x="13.05" y="639.61" font-size="11.71" font-weight="400" fill="#666" style="font-family:'Liberation Sans','Noto Sans CJK KR',sans-serif" textLength="85.58" lengthAdjust="spacingAndGlyphs">자료: 보건복지부</text>
<text id="cr" x="494.78" y="663.16" font-size="13.00" font-weight="400" fill="#333" style="font-family:'Liberation Sans','Noto Sans CJK KR',sans-serif" textLength="199.18" lengthAdjust="spacingAndGlyphs">23.12.05 전진우 기자 618tue@newsis.com</text>
</svg>
</body></html>
